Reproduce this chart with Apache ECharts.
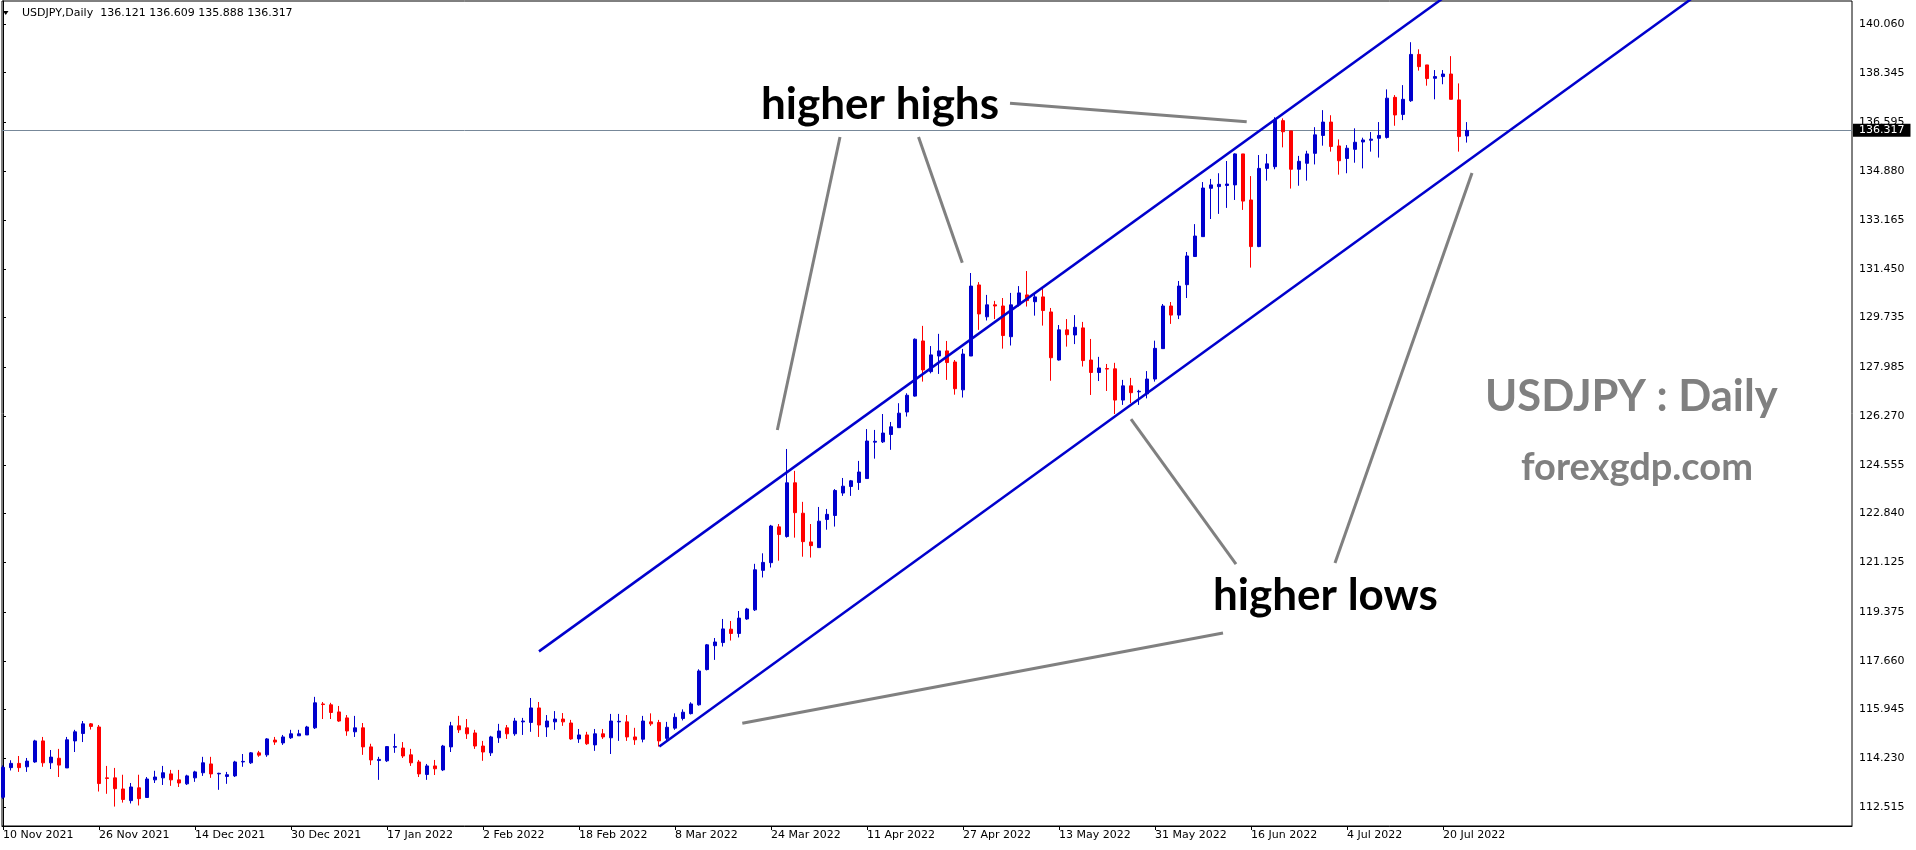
<!DOCTYPE html>
<html><head><meta charset="utf-8">
<script src="https://cdn.jsdelivr.net/npm/echarts@6/dist/echarts.min.js"></script>
<style>html,body{margin:0;padding:0;background:#fff;}#c{width:1916px;height:850px;}</style>
</head><body><div id="c"></div>
<script>
// ---- data ----
const symbolName = 'USDJPY';
const timeframe = 'Daily';
const openP = [112.86,113.90,114.05,113.93,114.10,114.84,114.07,114.23,113.89,114.84,115.10,115.44,115.33,113.54,113.54,113.15,112.74,113.19,112.85,113.47,113.54,113.68,113.47,113.33,113.54,113.72,114.03,113.68,113.59,113.61,114.10,114.07,114.42,114.35,114.87,114.77,114.95,115.02,115.05,115.30,116.14,116.11,115.86,115.65,115.16,115.30,114.63,114.15,114.14,114.62,114.59,114.35,114.10,113.66,113.96,113.82,114.63,115.37,115.30,115.12,114.66,114.42,114.95,115.30,115.09,115.51,115.49,116.00,115.33,115.51,115.61,115.47,114.91,115.05,114.70,115.09,114.95,115.51,115.51,114.98,114.90,115.51,115.49,114.93,115.29,115.63,115.80,116.11,117.35,118.19,118.30,118.77,118.62,119.13,119.45,120.84,121.11,122.37,122.03,123.92,122.85,121.84,121.64,122.63,122.77,123.56,123.79,123.93,124.07,125.35,125.36,125.62,125.86,126.41,126.97,128.91,127.83,128.38,128.56,128.17,127.19,128.38,130.88,129.76,130.18,130.14,129.06,130.18,130.53,130.29,130.46,129.93,128.24,129.30,129.12,129.37,128.24,127.80,127.94,127.93,126.83,127.33,127.12,127.05,127.57,128.64,130.14,129.82,130.89,131.88,132.58,134.28,134.34,134.38,134.40,135.49,133.87,132.23,134.98,135.04,136.66,136.30,134.95,135.16,135.51,136.14,136.61,135.77,135.33,135.65,135.91,135.97,136.04,136.07,137.48,136.88,137.36,138.99,138.62,138.15,138.21,138.30,137.39,136.121];
const highP = [113.98,114.16,114.31,114.24,114.88,114.98,114.52,114.56,114.98,115.23,115.54,115.47,115.40,113.96,113.89,113.65,113.36,113.65,113.57,113.79,113.96,113.82,113.82,113.65,113.79,114.28,114.28,113.72,113.75,114.14,114.38,114.45,114.49,114.94,114.98,115.05,115.23,115.23,115.37,116.39,116.21,116.18,116.07,115.75,115.72,115.47,114.74,114.28,114.66,115.09,114.80,114.56,114.17,114.03,114.17,114.70,115.51,115.72,115.61,115.23,114.84,115.02,115.44,115.40,115.65,115.65,116.35,116.21,115.75,115.89,115.82,115.58,115.26,115.16,115.26,115.26,115.79,115.79,115.75,115.30,115.72,115.81,115.58,115.51,115.81,115.95,116.20,117.36,118.25,118.46,119.13,119.06,119.41,119.52,121.07,121.44,122.44,122.47,125.11,124.34,123.25,122.47,123.07,123.00,123.70,124.09,124.02,124.69,125.81,125.78,126.34,126.06,126.72,127.07,129.00,129.44,128.73,129.16,128.91,128.24,128.63,131.30,130.98,130.53,130.32,130.42,130.60,130.84,131.37,130.60,130.77,130.07,129.47,129.68,129.82,129.58,128.98,128.35,128.10,128.14,127.54,127.61,127.19,127.85,128.92,130.21,130.28,131.02,132.04,133.02,134.50,134.61,134.81,135.24,135.51,135.49,134.71,135.45,135.49,136.78,136.74,136.30,135.42,135.60,136.43,137.03,136.85,136.00,135.80,136.39,136.06,136.26,136.61,137.76,137.56,137.91,139.42,139.17,138.62,138.44,138.44,138.93,137.97,136.609];
const lowP = [112.80,113.80,113.75,113.75,114.07,113.93,113.85,113.57,113.89,114.45,114.80,115.24,113.06,112.98,112.53,112.67,112.64,112.57,112.85,113.36,113.29,113.26,113.22,113.29,113.40,113.61,113.54,113.12,113.33,113.57,113.93,114.03,114.28,114.28,114.70,114.70,114.91,115.02,115.05,115.26,115.61,115.61,115.51,115.02,114.98,114.35,113.99,113.47,114.10,114.42,114.24,113.96,113.57,113.47,113.64,113.78,114.45,115.12,114.91,114.56,114.14,114.31,114.77,114.91,115.02,115.05,115.16,114.98,114.98,115.23,115.37,114.88,114.77,114.70,114.49,114.91,114.38,114.84,114.84,114.70,114.79,115.37,114.64,114.85,115.23,115.56,115.77,116.08,117.32,117.69,118.16,118.37,118.48,119.10,119.41,120.59,120.94,121.18,121.99,121.99,121.32,121.29,121.64,122.27,122.38,123.46,123.46,123.67,124.07,124.77,125.32,125.08,125.86,126.25,126.95,127.48,127.77,127.75,127.54,127.02,126.92,128.38,129.30,129.63,129.68,128.64,128.75,130.12,130.12,129.80,129.45,127.51,128.22,128.71,128.80,128.01,127.01,127.50,127.15,126.34,126.66,126.72,126.66,126.89,127.48,128.64,129.51,129.68,130.42,131.88,132.58,133.20,133.38,133.59,133.87,133.52,131.49,132.21,134.55,134.95,135.72,134.27,134.37,134.55,135.12,135.78,135.57,134.76,134.81,135.18,134.98,135.57,135.36,136.03,136.48,136.68,137.32,138.42,137.89,137.41,137.94,137.41,135.57,135.888];
const closeP = [113.91,114.05,113.90,114.13,114.84,114.07,114.27,113.99,114.88,115.16,115.44,115.35,113.34,113.52,113.16,112.78,113.22,112.81,113.50,113.57,113.72,113.47,113.36,113.61,113.75,114.07,113.68,113.70,113.65,114.10,114.12,114.42,114.34,114.91,114.80,114.98,115.09,115.09,115.33,116.18,116.12,115.84,115.54,115.19,115.30,114.63,114.17,114.19,114.64,114.64,114.31,114.07,113.68,113.96,113.86,114.66,115.37,115.23,115.09,114.66,114.45,114.98,115.19,115.09,115.54,115.54,116.00,115.40,115.54,115.61,115.51,114.91,115.05,114.74,115.09,114.98,115.54,115.53,114.98,114.88,115.54,115.44,114.84,115.32,115.67,115.85,116.14,117.30,118.22,118.32,118.78,118.62,119.16,119.48,120.86,121.12,122.40,122.10,123.92,122.87,121.85,121.71,122.57,122.81,123.65,123.80,123.99,124.30,125.39,125.38,125.67,125.89,126.37,127.00,128.97,127.89,128.42,128.56,128.15,127.23,128.45,130.84,129.86,130.18,130.14,129.10,130.18,130.60,130.33,130.46,129.98,128.32,129.30,129.13,129.39,128.22,127.80,127.96,127.92,126.83,127.33,127.09,127.14,127.57,128.65,130.14,129.82,130.84,131.90,132.60,134.29,134.40,134.42,134.43,135.49,133.83,132.23,134.98,135.14,136.68,136.27,134.95,135.23,135.49,136.16,136.61,135.75,135.25,135.69,135.90,135.98,136.01,136.14,137.45,136.86,137.41,138.99,138.56,138.14,138.21,138.30,137.41,136.10,136.317];
const xTickIndex = [0,12,24,36,48,60,72,84,96,108,120,132,144,156,168,180];
const xTickLabels = ['10 Nov 2021','26 Nov 2021','14 Dec 2021','30 Dec 2021','17 Jan 2022','2 Feb 2022','18 Feb 2022','8 Mar 2022','24 Mar 2022','11 Apr 2022','27 Apr 2022','13 May 2022','31 May 2022','16 Jun 2022','4 Jul 2022','20 Jul 2022'];
const yTickValues = [140.060,138.345,136.595,134.880,133.165,131.450,129.735,127.985,126.270,124.555,122.840,121.125,119.375,117.660,115.945,114.230,112.515];

// ---- annotations (in bar index / price coordinates) ----
const upperChannel = [[67.0,117.99],[182.125,141.40]];
const lowerChannel = [[82.04,114.64],[213.375,141.42]];
const pointerLines = [
  [[125.875,137.27],[155.46,136.623]],
  [[104.625,136.085],[96.79,125.777]],
  [[114.44,136.085],[119.91,131.663]],
  [[141.0,126.164],[154.125,121.063]],
  [[183.625,134.818],[166.5,121.098]],
  [[92.41,115.459],[152.5,118.636]]
];

const BLUE = '#0000CD', RED = '#FF0000', GRAY = '#808080';
const AXF = 'DejaVu Sans';
const n = openP.length;
const candles = openP.map((o,i)=>[i,o,closeP[i],lowP[i],highP[i]]);
const last = closeP[n-1];

const series = [{
  type:'candlestick', data:candles, barWidth:4, silent:true, z:3,
  itemStyle:{color:BLUE,color0:RED,borderColor:BLUE,borderColor0:RED,borderWidth:1},
  markLine:{
    symbol:'none', silent:true, animation:false, z:1,
    data:[{yAxis:last}],
    lineStyle:{color:'#778899',width:1,type:'solid'},
    label:{show:true,position:'end',distance:1,formatter:()=>last.toFixed(3),
      backgroundColor:'#000',color:'#fff',fontFamily:AXF,fontSize:11,padding:[1,6,1,6]}
  }
}];
[upperChannel,lowerChannel].forEach(d=>series.push({type:'line',data:d,symbol:'none',silent:true,z:5,
  lineStyle:{color:BLUE,width:2.5}}));
pointerLines.forEach(d=>series.push({type:'line',data:d,symbol:'none',silent:true,z:5,
  lineStyle:{color:GRAY,width:3}}));

function txt(text,x,y,size,color){
  return {type:'text',z:100,style:{text:text,x:x,y:y,font:'bold '+size+'px Lato',fill:color,
    align:'left',textAlign:'left',verticalAlign:'middle',textVerticalAlign:'middle'}};
}

const option = {
  animation:false,
  backgroundColor:'#fff',
  grid:{left:2,top:1,right:64,bottom:24,show:true,borderColor:'#000',borderWidth:1,backgroundColor:'transparent'},
  xAxis:{type:'value',min:-0.125,max:231.125,
    axisLine:{show:true,lineStyle:{color:'#000',width:1}},
    axisTick:{show:true,length:4,lineStyle:{color:'#000'},customValues:xTickIndex},
    axisLabel:{show:true,customValues:xTickIndex,align:'left',margin:4,color:'#000',fontFamily:AXF,fontSize:11,
      formatter:(v)=>{const k=xTickIndex.indexOf(Math.round(v));return k>=0?xTickLabels[k]:'';}},
    splitLine:{show:false}},
  yAxis:{type:'value',position:'right',min:111.847,max:140.869,scale:true,
    axisLine:{show:true,lineStyle:{color:'#000',width:1}},
    axisTick:{show:true,length:3,lineStyle:{color:'#000'},customValues:yTickValues},
    axisLabel:{show:true,customValues:yTickValues,margin:7,color:'#000',fontFamily:AXF,fontSize:11,
      formatter:(v)=>v.toFixed(3)},
    splitLine:{show:false}},
  series:series,
  graphic:[
    {type:'polygon',z:100,shape:{points:[[3,11],[8.5,11],[5.75,15]]},style:{fill:'#000'}},
    {type:'text',z:100,style:{text:symbolName+','+timeframe+'  '+openP[n-1].toFixed(3)+' '+highP[n-1].toFixed(3)+' '+lowP[n-1].toFixed(3)+' '+closeP[n-1].toFixed(3),
      x:22,y:13,font:'11px DejaVu Sans',fill:'#000',align:'left',textAlign:'left',verticalAlign:'middle',textVerticalAlign:'middle'}},
    txt('higher highs',761,105,44,'#000'),
    txt('higher lows',1213,596,44,'#000'),
    txt(symbolName+' : '+timeframe,1485,397,43.5,GRAY),
    txt('forexgdp.com',1521,468,38,GRAY)
  ]
};
const chart = echarts.init(document.getElementById('c'),null,{renderer:'canvas'});
chart.setOption(option);
</script></body></html>
